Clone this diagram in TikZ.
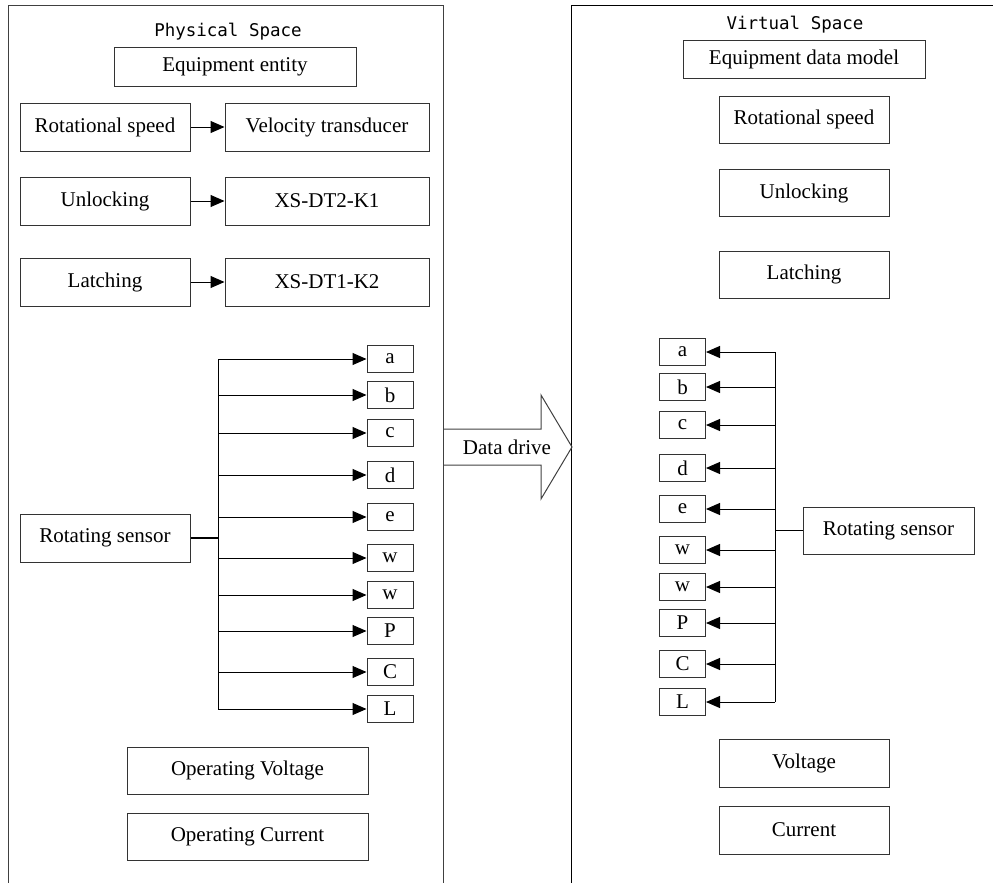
\documentclass[tikz,border=0pt]{standalone}
\usepackage{fontspec}
\setmainfont{Liberation Serif}
\newfontfamily\titlefont{DejaVu Sans Mono}
\usetikzlibrary{arrows.meta}

\tikzset{
	box/.style={draw=black!80, line width=1pt, inner sep=0pt, font=\fontsize{21}{24}\selectfont},
	smallbox/.style={box, minimum width=46pt, minimum height=27pt},
	arr/.style={line width=1pt, -{Triangle[length=14pt, width=12pt]}},
	title/.style={font=\titlefont\fontsize{17.5}{20}\selectfont}
}

\begin{document}
\begin{tikzpicture}[x=1pt, y=-1pt]
	\useasboundingbox (0,0) rectangle (993,883); % Rand um Grafik
	
	% Rahmen
	\draw[black!75, line width=1pt] (8,883) -- (8,6) -- (443,6) -- (443,883);
	\draw[line width=1pt] (571,883) -- (571,6) -- (993,6);
	
	% Data drive Pfeil
	\draw[black!75, line width=1pt] (443,429) -- (541,429) -- (541,395) -- (572,447) -- (541,499) -- (541,465) -- (443,465);
	\node[font=\fontsize{21}{24}\selectfont] (drive) at (507,447) {Data drive};
	
	%%% Physical Space
	\node[title] (ptitle) at (228,32) {Physical Space};
	\node[box, minimum width=242pt, minimum height=38pt] (peq) at (235,67) {Equipment entity};
	
	\node[box, minimum width=170pt, minimum height=48pt] (pspeed) at (105,127) {Rotational speed};
	\node[box, minimum width=204pt, minimum height=48pt] (pvel) at (327,127) {Velocity transducer};
	\node[box, minimum width=170pt, minimum height=48pt] (punlock) at (105,201) {Unlocking};
	\node[box, minimum width=204pt, minimum height=48pt] (pk1) at (327,201) {XS-DT2-K1};
	\node[box, minimum width=170pt, minimum height=48pt] (platch) at (105,282) {Latching};
	\node[box, minimum width=204pt, minimum height=48pt] (pk2) at (327,282) {XS-DT1-K2};
	
	\draw[arr] (pspeed) -- (pvel);
	\draw[arr] (punlock) -- (pk1);
	\draw[arr] (platch) -- (pk2);
	
	\node[box, minimum width=170pt, minimum height=48pt] (psens) at (105,538) {Rotating sensor};
	
	\node[smallbox] (pa) at (390,359) {a};
	\node[smallbox] (pb) at (390,395) {b};
	\node[smallbox] (pc) at (390,433) {c};
	\node[smallbox] (pd) at (390,475) {d};
	\node[smallbox] (pe) at (390,517) {e};
	\node[smallbox] (pw1) at (390,558) {w};
	\node[smallbox] (pw2) at (390,595) {w};
	\node[smallbox] (pP) at (390,631) {P};
	\node[smallbox] (pC) at (390,672) {C};
	\node[smallbox] (pL) at (390,709) {L};
	
	\coordinate (pbus) at (218,538);
	\draw[line width=1.8pt] (psens.east) -- (pbus);
	\draw[line width=1pt] (pbus |- pa) -- (pbus |- pL);
	\foreach \n in {a,b,c,d,e,w1,w2,P,C,L}
		\draw[arr] (pbus |- p\n) -- (p\n.west);
	
	\node[box, minimum width=241pt, minimum height=47pt] (pvolt) at (247.5,770.5) {Operating Voltage};
	\node[box, minimum width=241pt, minimum height=47pt] (pcurr) at (247.5,837) {Operating Current};
	
	%%% Virtual Space
	\node[title] (vtitle) at (795,25) {Virtual Space};
	\node[box, minimum width=242pt, minimum height=37pt] (veq) at (804,59.5) {Equipment data model};
	
	\node[box, minimum width=170pt, minimum height=47pt] (vspeed) at (804,119.5) {Rotational speed};
	\node[box, minimum width=170pt, minimum height=47pt] (vunlock) at (804,193) {Unlocking};
	\node[box, minimum width=170pt, minimum height=47pt] (vlatch) at (804,274.5) {Latching};
	
	\node[box, minimum width=171pt, minimum height=47pt] (vsens) at (888.5,530.5) {Rotating sensor};
	
	\node[smallbox] (va) at (682.5,352) {a};
	\node[smallbox] (vb) at (682.5,387) {b};
	\node[smallbox] (vc) at (682.5,425) {c};
	\node[smallbox] (vd) at (682.5,468) {d};
	\node[smallbox] (ve) at (682.5,509) {e};
	\node[smallbox] (vw1) at (682.5,550) {w};
	\node[smallbox] (vw2) at (682.5,587) {w};
	\node[smallbox] (vP) at (682.5,623) {P};
	\node[smallbox] (vC) at (682.5,664) {C};
	\node[smallbox] (vL) at (682.5,702) {L};
	
	\coordinate (vbus) at (775,530.5);
	\draw[line width=1.8pt] (vsens.west) -- (vbus);
	\draw[line width=1pt] (vbus |- va) -- (vbus |- vL);
	\foreach \n in {a,b,c,d,e,w1,w2,P,C,L}
		\draw[arr] (vbus |- v\n) -- (v\n.east);
	
	\node[box, minimum width=170pt, minimum height=48pt] (vvolt) at (804,763) {Voltage};
	\node[box, minimum width=170pt, minimum height=48pt] (vcurr) at (804,830) {Current};
\end{tikzpicture}
\end{document}
